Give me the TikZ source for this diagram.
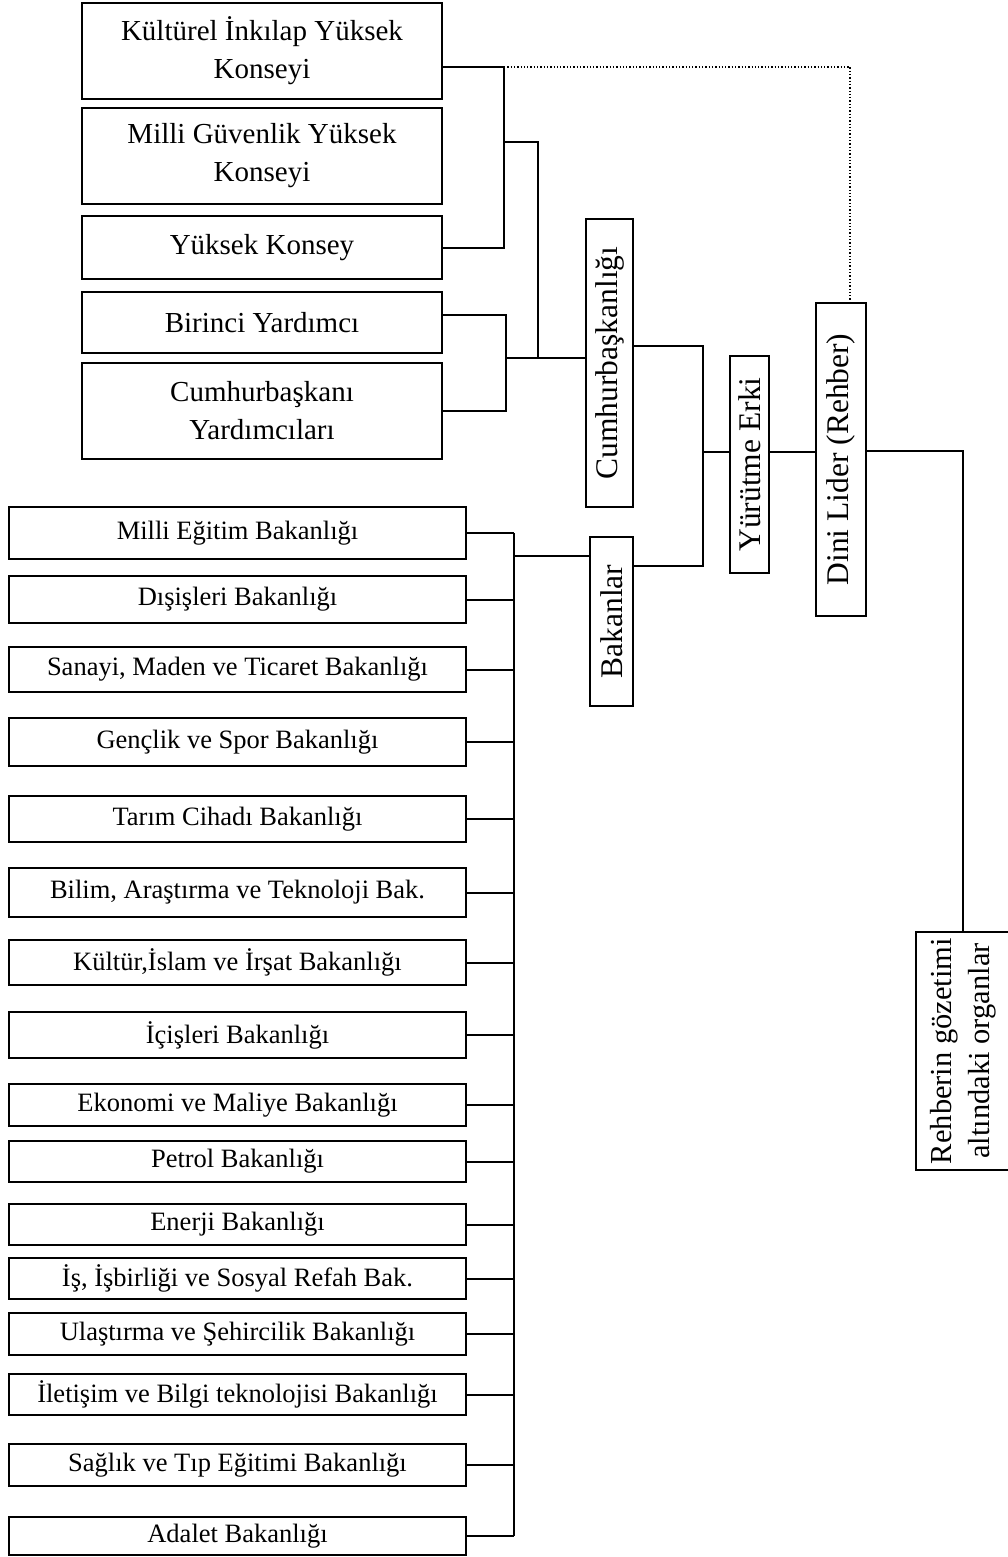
\documentclass[tikz,border=0pt]{standalone}
\usepackage{fontspec}
\setmainfont{Liberation Serif}

\begin{document}
\begin{tikzpicture}[x=1pt,y=-1pt, line width=2,
  kurul/.style={draw, inner sep=0, align=center, minimum width=360, font=\fontsize{29}{38}\selectfont},
  bakanlik/.style={draw, inner sep=0, minimum width=457, font=\fontsize{26.5}{30}\selectfont},
  dikey/.style={draw, inner sep=0, rotate=90, align=center, font=\fontsize{31.5}{38}\selectfont},
  ince/.style={line width=1.3}]

\useasboundingbox (0,0) rectangle (1008,1557);

% kurullar ve yardimcilar
\node[kurul, minimum height=96] (kik) at (262,51) {Kültürel İnkılap Yüksek\\Konseyi};
\node[kurul, minimum height=96] (mgy) at (262,156) {Milli Güvenlik Yüksek\\Konseyi};
\node[kurul, minimum height=63] (yk) at (262,247.5) {Yüksek Konsey};
\node[kurul, minimum height=61] (by) at (262,322.5) {Birinci Yardımcı};
\node[kurul, minimum height=96] (cy) at (262,411) {Cumhurbaşkanı\\Yardımcıları};

% dikey kutular
\node[dikey, minimum width=288, minimum height=47] (cumh) at (609.5,363) {Cumhurbaşkanlığı};
\node[dikey, minimum width=169, minimum height=43] (bkn) at (611.5,621.5) {Bakanlar};
\node[dikey, ince, minimum width=217, minimum height=39] (ye) at (749.5,464.5) {Yürütme Erki};
\node[dikey, minimum width=313, minimum height=50] (dl) at (841,459.5) {Dini Lider (Rehber)};
\node[dikey, ince, minimum width=238, minimum height=94, font=\fontsize{30.5}{38}\selectfont] (rg) at (963,1051) {Rehberin gözetimi\\altındaki organlar};

% bakanliklar
\node[bakanlik, minimum height=52] (meb) at (237.5,533) {Milli Eğitim Bakanlığı};
\node[bakanlik, minimum height=47] (dis) at (237.5,599.5) {Dışişleri Bakanlığı};
\node[bakanlik, minimum height=45] (san) at (237.5,669.5) {Sanayi, Maden ve Ticaret Bakanlığı};
\node[bakanlik, minimum height=48] (gen) at (237.5,742) {Gençlik ve Spor Bakanlığı};
\node[bakanlik, minimum height=46] (tar) at (237.5,819) {Tarım Cihadı Bakanlığı};
\node[bakanlik, minimum height=49] (bil) at (237.5,892.5) {Bilim, Araştırma ve Teknoloji Bak.};
\node[bakanlik, minimum height=45] (kul) at (237.5,962.5) {Kültür,İslam ve İrşat Bakanlığı};
\node[bakanlik, minimum height=46] (ici) at (237.5,1035) {İçişleri Bakanlığı};
\node[bakanlik, minimum height=42] (eko) at (237.5,1105) {Ekonomi ve Maliye Bakanlığı};
\node[bakanlik, minimum height=41] (pet) at (237.5,1161.5) {Petrol Bakanlığı};
\node[bakanlik, minimum height=41] (ene) at (237.5,1224.5) {Enerji Bakanlığı};
\node[bakanlik, minimum height=41] (isb) at (237.5,1278.5) {İş, İşbirliği ve Sosyal Refah Bak.};
\node[bakanlik, minimum height=42] (ula) at (237.5,1334) {Ulaştırma ve Şehircilik Bakanlığı};
\node[bakanlik, minimum height=41] (ilt) at (237.5,1394.5) {İletişim ve Bilgi teknolojisi Bakanlığı};
\node[bakanlik, minimum height=42] (sag) at (237.5,1465) {Sağlık ve Tıp Eğitimi Bakanlığı};
\node[bakanlik, minimum height=38] (ada) at (237.5,1536) {Adalet Bakanlığı};

% ust baglantilar
\coordinate (j1) at (504,67);
\coordinate (j2) at (504,142);
\coordinate (j3) at (538,358);
\coordinate (j4) at (506,358);
\draw (kik.east |- j1) -- (j1) |- (yk.east);
\draw (j2) -| (j3);
\draw (by.east |- 0,315) -| (j4) |- (cy.east);
\draw (j4) -- (cumh.north |- j4);
\draw[dotted, ince] (j1) -| ([xshift=9]dl.east);

% yurutme
\coordinate (jc) at (703,346);
\coordinate (jy) at (703,452);
\coordinate (jb) at (703,566);
\draw (cumh.south |- jc) -- (jc) -- (jb) -- (bkn.south |- jb);
\draw[ince] (jy) -- (ye.north |- jy);
\draw[ince] (ye.south |- jy) -- (dl.north |- jy);
\draw[ince] (dl.south |- 0,451) -| (rg.east);

% bakanliklar hatti
\coordinate (bt) at (514,533);
\coordinate (jk) at (514,556);
\draw (bt) -- (ada.east -| bt);
\draw (jk) -- (bkn.north |- jk);
\foreach \b in {meb,dis,san,gen,tar,bil,kul,ici,eko,pet,ene,isb,ula,ilt,sag,ada}
  \draw (\b.east) -- (\b.east -| bt);

\end{tikzpicture}
\end{document}
